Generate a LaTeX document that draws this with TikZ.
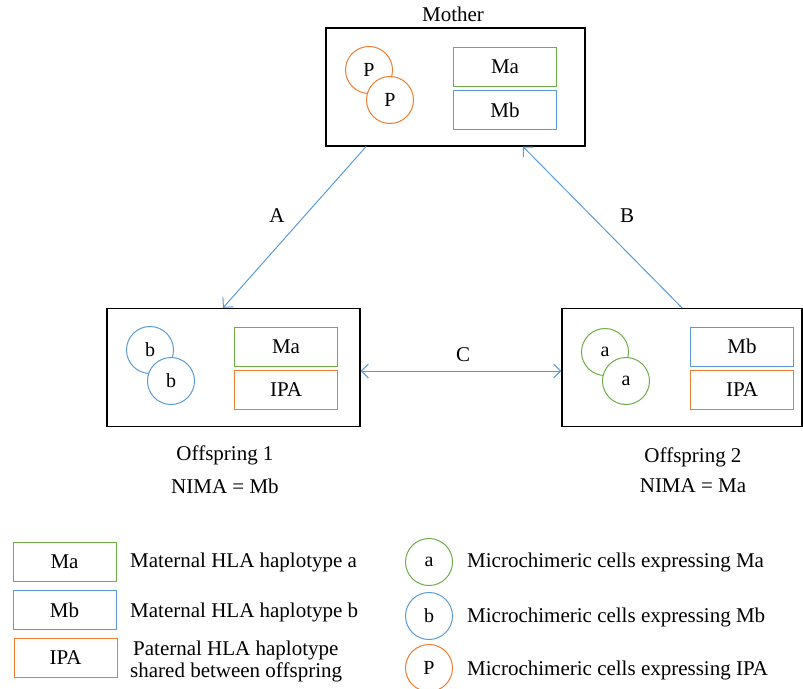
\documentclass[tikz,border=0pt]{standalone}
\usepackage{fontspec}
\setmainfont{Liberation Serif}
\usetikzlibrary{arrows.meta, calc}
\definecolor{cellgreen}{RGB}{112, 173, 71}
\definecolor{cellblue}{RGB}{91, 155, 213}
\definecolor{cellorange}{RGB}{237, 125, 49}

\tikzset{
  panel/.style={draw, line width=1.3pt, minimum width=#1, minimum height=118pt, inner sep=0pt},
  hapbox/.style={draw=#1, line width=1pt, minimum width=103pt, minimum height=39pt, inner sep=0pt},
  cell/.style={circle, draw=#1, fill=white, line width=1pt, minimum size=47pt, inner sep=0pt,
    font=\fontsize{20}{24}\selectfont},
  link/.style={draw=cellblue, line width=1pt},
  legendtext/.style={anchor=west, align=left, inner sep=0pt, font=\fontsize{21}{22}\selectfont}
}

\begin{document}
\begin{tikzpicture}[x=1pt, y=-1pt, >={Straight Barb[length=7pt, width=14pt]},
  every node/.style={font=\fontsize{21}{24}\selectfont}]
  \useasboundingbox (0,0) rectangle (803,688);

  % Mother
  \node[panel=259pt] (mother) at (455.5,87) {};
  \node (mtitle) at (453,14) {Mother};
  \node[cell=cellorange] (mp1) at (369,70) {P};
  \node[cell=cellorange] (mp2) at (390,100) {P};
  \node[hapbox=cellgreen] (mMa) at (505,66.5) {Ma};
  \node[hapbox=cellblue] (mMb) at (505,110) {Mb};

  % Offspring 1
  \node[panel=253pt] (off1) at (233.5,367.5) {};
  \node[cell=cellblue] (ob1) at (150,350) {b};
  \node[cell=cellblue] (ob2) at (171,381) {b};
  \node[hapbox=cellgreen] (oMa) at (286,347) {Ma};
  \node[hapbox=cellorange] (oIPA1) at (286,390) {IPA};
  \node (otitle1) at (225,455) {Offspring 1};
  \node (onima1) at (225,486) {NIMA = Mb};

  % Offspring 2
  \node[panel=240pt] (off2) at (682,367.5) {};
  \node[cell=cellgreen] (oa1) at (605,352) {a};
  \node[cell=cellgreen] (oa2) at (626,381) {a};
  \node[hapbox=cellblue] (oMb) at (742,346.5) {Mb};
  \node[hapbox=cellorange] (oIPA2) at (742,390) {IPA};
  \node (otitle2) at (693,457) {Offspring 2};
  \node (onima2) at (693,486) {NIMA = Ma};

  % Transfer arrows
  \draw[link, ->] ([xshift=-89.5pt]mother.south) -- ([xshift=-10.5pt]off1.north);
  \draw[link, ->] (off2.north) -- ([xshift=67.5pt]mother.south);
  \draw[link, <->] ([yshift=-3.5pt]off1.east) -- ([yshift=-3.5pt]off2.west);
  \node (labA) at (277,216) {A};
  \node (labB) at (627,216) {B};
  \node (labC) at (463,355) {C};

  % Legend, haplotypes
  \node[hapbox=cellgreen] (kMa) at (64.5,562) {Ma};
  \node[hapbox=cellblue] (kMb) at (64.5,610) {Mb};
  \node[hapbox=cellorange] (kIPA) at (65.5,658) {IPA};
  \node[legendtext] (tMa) at (130,562) {Maternal HLA haplotype a};
  \node[legendtext] (tMb) at (130,612) {Maternal HLA haplotype b};
  \node[legendtext] (tIPA) at (130,661) {\hspace*{3pt}Paternal HLA haplotype\\shared between offspring};

  % Legend, cells
  \node[cell=cellgreen] (ka) at (429,562) {a};
  \node[cell=cellblue] (kb) at (429,616) {b};
  \node[cell=cellorange] (kp) at (429,668) {P};
  \node[legendtext] (ta) at (467,562) {Microchimeric cells expressing Ma};
  \node[legendtext] (tb) at (467,617) {Microchimeric cells expressing Mb};
  \node[legendtext] (tp) at (467,670) {Microchimeric cells expressing IPA};
\end{tikzpicture}
\end{document}
